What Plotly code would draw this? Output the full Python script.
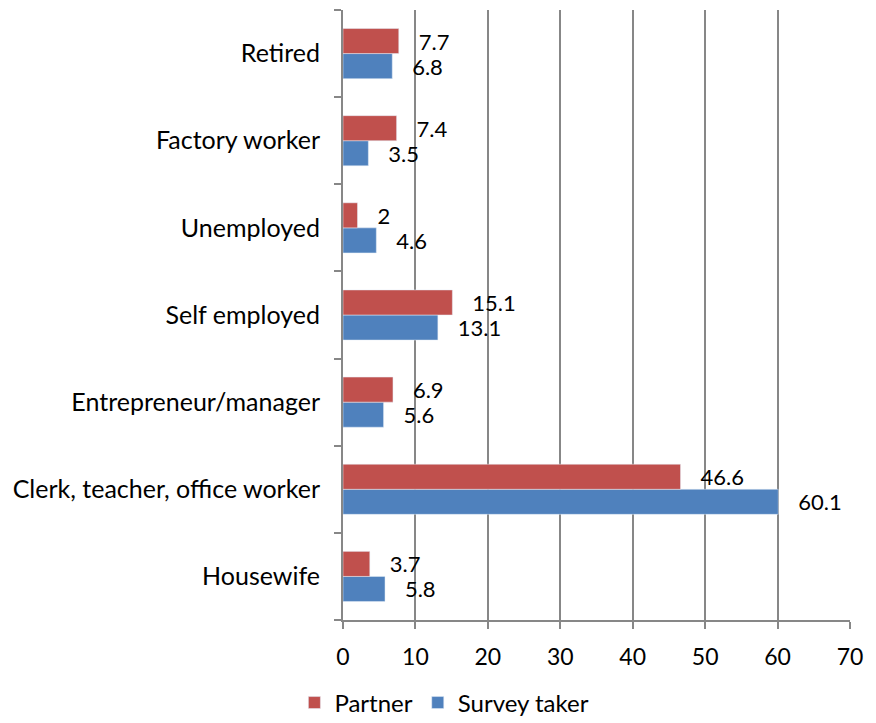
import plotly.graph_objects as go

categories = ["Housewife", "Clerk, teacher, office worker", "Entrepreneur/manager",
              "Self employed", "Unemployed", "Factory worker", "Retired"]
partner = [3.7, 46.6, 6.9, 15.1, 2, 7.4, 7.7]
survey_taker = [5.8, 60.1, 5.6, 13.1, 4.6, 3.5, 6.8]
x_ticks = [0, 10, 20, 30, 40, 50, 60, 70]

FONT = "Lato"
FS = 25
LS = 22
PAD = "\u00a0\u00a0\u00a0"

fig = go.Figure()
fig.add_trace(go.Bar(
    y=categories, x=survey_taker, name="Survey taker", orientation="h",
    marker=dict(color="#4F81BD"), text=[PAD + str(v) for v in survey_taker],
    textposition="outside", constraintext="none",
    textfont=dict(size=LS, color="black", family=FONT),
    cliponaxis=False))
fig.add_trace(go.Bar(
    y=categories, x=partner, name="Partner", orientation="h",
    marker=dict(color="#C0504D"), text=[PAD + str(v) for v in partner],
    textposition="outside", constraintext="none",
    textfont=dict(size=LS, color="black", family=FONT),
    cliponaxis=False))

fig.update_layout(
    width=868, height=715,
    margin=dict(l=335, r=26, t=2, b=103, autoexpand=False),
    paper_bgcolor="white", plot_bgcolor="white",
    barmode="group", bargap=0.425, bargroupgap=0,
    font=dict(family=FONT, size=FS, color="black"),
    legend=dict(orientation="h", traceorder="reversed", x=0.2, xanchor="center",
                y=-0.136, yanchor="middle", font=dict(size=24, family=FONT)),
    showlegend=True,
)
fig.update_xaxes(
    range=[0, 70], tickvals=x_ticks, showgrid=True, gridcolor="#878787", gridwidth=2,
    zeroline=False, showline=True, linecolor="#878787", linewidth=2,
    ticks="outside", tickcolor="#878787", ticklen=7, tickwidth=2,
    tickfont=dict(size=23), ticklabelstandoff=8, fixedrange=True, automargin=False,
)
fig.update_yaxes(
    categoryorder="array", categoryarray=categories,
    showline=True, linecolor="#878787", linewidth=2,
    ticks="outside", tickson="boundaries", tickcolor="#878787", ticklen=7, tickwidth=2,
    showgrid=False, tickfont=dict(size=FS), ticklabelstandoff=16, automargin=False,
)
fig.write_html("out.html")
